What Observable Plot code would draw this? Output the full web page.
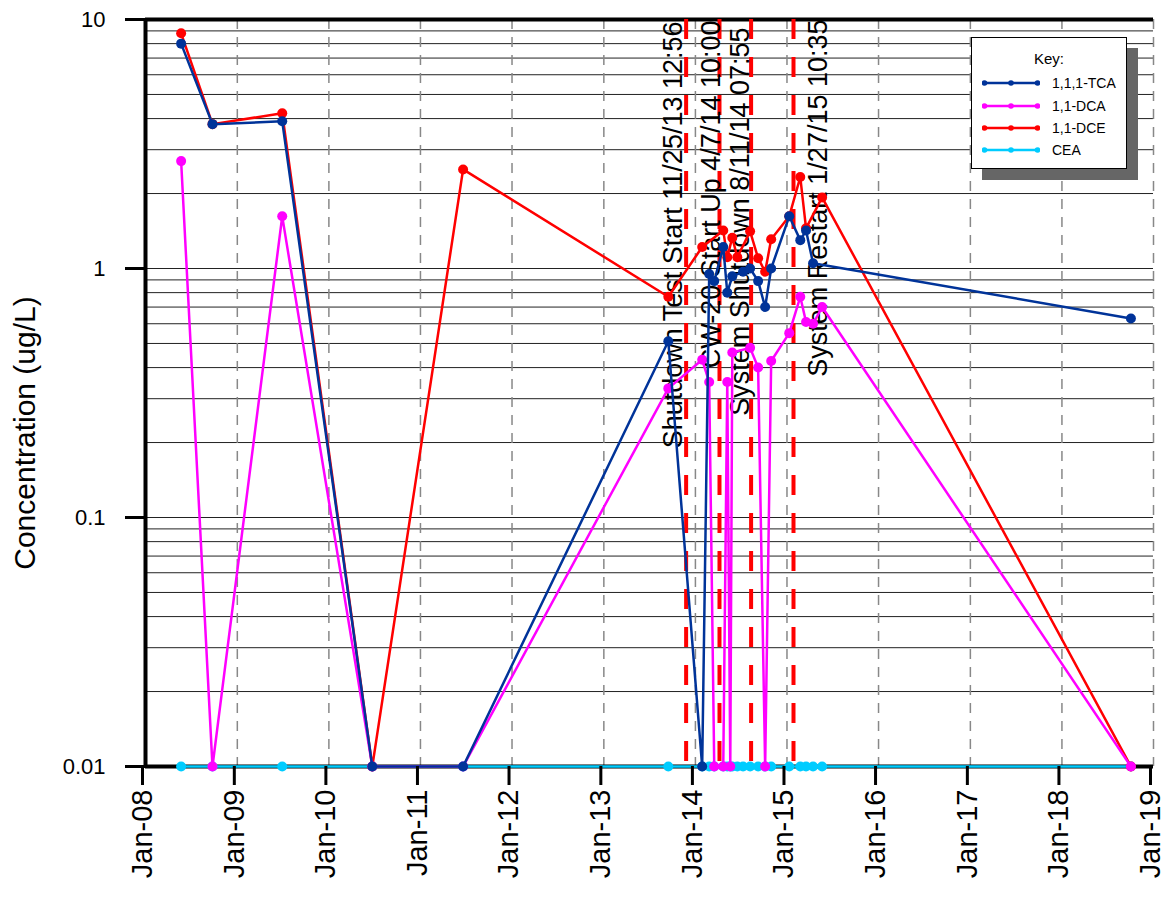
<!DOCTYPE html>
<html>
<head>
<meta charset="utf-8">
<script src="https://cdn.jsdelivr.net/npm/d3@7"></script>
<script src="https://cdn.jsdelivr.net/npm/@observablehq/plot@0.6"></script>
<style>
  body { margin: 0; background: #fff; }
  #wrap { position: relative; width: 1167px; height: 905px; }
  #key {
    position: absolute; left: 971px; top: 37px; width: 154px; height: 130px;
    border: 1px solid #000; background: #fff; box-shadow: 11px 11px 0 #666;
    font-family: "Liberation Sans", Arial, sans-serif; font-size: 14px; color: #000;
  }
  #key .title { position: absolute; top: 12px; left: 0; width: 100%; text-align: center; font-size: 15px; }
  #key .row { position: absolute; left: 10px; height: 14px; display: flex; align-items: center; }
  #key .row span { margin-left: 12px; }
</style>
</head>
<body>
<div id="wrap"><div id="key"><div class="title">Key:</div></div></div>
<script>
// Sampling dates (all analytes reported on the same events)
const sampleDates = [
  "2008-05-22", "2008-09-24", "2009-06-29", "2010-06-23", "2011-06-20",
  "2013-09-15", "2014-01-28", "2014-02-25", "2014-03-17", "2014-04-22",
  "2014-05-08", "2014-05-20", "2014-05-28", "2014-06-17", "2014-07-10",
  "2014-08-07", "2014-09-08", "2014-10-06", "2014-10-30", "2015-01-10",
  "2015-02-23", "2015-03-18", "2015-04-15", "2015-05-21", "2018-10-03"
];

// Concentrations in ug/L (null = not reported); non-detects plotted at 0.01
const tca = [8.0, 3.8, 3.9, 0.01, 0.01, 0.51, 0.01, 0.95, 0.89, 1.22, 0.80, null, 0.93, null, 0.97, 1.0, 0.89, 0.70, 1.0, 1.62, 1.30, 1.42, 1.05, null, 0.63];
const dca = [2.7, 0.01, 1.62, 0.01, 0.01, 0.33, 0.43, 0.35, 0.01, 0.01, 0.35, 0.01, 0.46, null, null, 0.48, 0.40, 0.01, 0.425, 0.55, 0.77, 0.61, 0.60, 0.70, 0.01];
const dce = [8.8, 3.8, 4.2, 0.01, 2.5, 0.77, 1.22, null, null, 1.42, 1.11, null, 1.33, 1.11, null, 1.41, 1.10, 0.97, 1.31, 1.62, 2.33, 1.45, null, 1.93, 0.01];
const cea = [0.01, 0.01, 0.01, 0.01, 0.01, 0.01, 0.01, 0.01, 0.01, 0.01, 0.01, 0.01, 0.01, 0.01, 0.01, 0.01, 0.01, 0.01, 0.01, 0.01, 0.01, 0.01, 0.01, 0.01, 0.01];

const seriesNames = ["1,1,1-TCA", "1,1-DCA", "1,1-DCE", "CEA"];
const seriesValues = [tca, dca, dce, cea];
const seriesColors = ["#003399", "#ff00ff", "#ff0000", "#00ccff"];

// System events
const eventDates = ["2013-11-25", "2014-04-07", "2014-08-11", "2015-01-27"];
const eventLabels = [
  "Shutdown Test Start 11/25/13 12:56",
  "CW-20 Start Up 4/7/14 10:00",
  "System Shutdown 8/11/14 07:55",
  "System Restart 1/27/15 10:35"
];

// Axis ticks
const yearTicks = ["2008", "2009", "2010", "2011", "2012", "2013", "2014", "2015", "2016", "2017", "2018", "2019"];
const yTicks = [0.01, 0.1, 1, 10];
const yTickLabels = ["0.01", "0.1", "1", "10"];
const yLabel = "Concentration (ug/L)";

const parse = s => new Date(s + (s.length === 4 ? "-01-01" : "") + "T00:00:00Z");
const years = yearTicks.map(parse);
const events = eventDates.map((d, i) => ({date: parse(d), label: eventLabels[i]}));

const rows = [];
seriesNames.forEach((name, k) => {
  seriesValues[k].forEach((v, i) => {
    if (v != null) rows.push({name, date: parse(sampleDates[i]), value: v});
  });
});

// minor grid at 1..9 of each decade
const yGrid = [0.01, 0.1, 1].flatMap(d => [1, 2, 3, 4, 5, 6, 7, 8, 9].map(m => +(d * m).toPrecision(3))).filter(v => v > 0.01);

const font = "'Liberation Sans', Arial, sans-serif";
const labelNudge = [[-23, 2], [-19, 1], [-21, 8], [14, 0]];

// draw series back-to-front: CEA, DCE, DCA, TCA
const drawOrder = [3, 2, 1, 0];
const seriesMarks = drawOrder.flatMap(k => {
  const data = rows.filter(r => r.name === seriesNames[k]);
  return [
    Plot.line(data, {x: "date", y: "value", stroke: seriesColors[k], strokeWidth: 2.5}),
    Plot.dot(data, {x: "date", y: "value", fill: seriesColors[k], r: 5})
  ];
});

const chart = Plot.plot({
  width: 1167,
  height: 905,
  marginLeft: 145,
  marginRight: 14,
  marginTop: 19,
  marginBottom: 139,
  style: {fontFamily: font, background: "#fff", color: "#000"},
  x: {type: "utc", domain: [years[0], years[years.length - 1]]},
  y: {type: "log", domain: [0.01, 10]},
  marks: [
    Plot.ruleY(yGrid, {stroke: "#222", strokeWidth: 1}),
    Plot.ruleX(years.slice(1), {stroke: "#888", strokeWidth: 1.5, strokeDasharray: "10,8"}),
    Plot.ruleY([10], {stroke: "#000", strokeWidth: 4}),
    Plot.ruleY([0.01], {stroke: "#000", strokeWidth: 4}),
    Plot.ruleX([years[0]], {stroke: "#000", strokeWidth: 4}),
    Plot.ruleX(events, {x: "date", stroke: "#ff0000", strokeWidth: 4, strokeDasharray: "20,18"}),
    ...events.map((e, i) => Plot.text([e], {
      x: "date", text: "label", frameAnchor: "top", textAnchor: "end", rotate: -90,
      dx: labelNudge[i][0], dy: labelNudge[i][1], fontSize: 27, fill: "#000"
    })),
    ...seriesMarks,
    Plot.axisX({
      ticks: years, tickFormat: d3.utcFormat("%b-%y"), tickRotate: -90,
      tickSize: 19, tickPadding: 4, strokeWidth: 3, fontSize: 29, dx: -3, label: null
    }),
    Plot.axisY({
      ticks: yTicks, tickFormat: (d, i) => yTickLabels[yTicks.indexOf(d)],
      tickSize: 20, tickPadding: 20, strokeWidth: 3, fontSize: 22, label: null
    }),
    Plot.text([yLabel], {frameAnchor: "left", textAnchor: "middle", rotate: -90, dx: -120, dy: 40, fontSize: 30, fill: "#000"})
  ]
});

const wrap = document.getElementById("wrap");
wrap.insertBefore(chart, wrap.firstChild);

// Key
const key = document.getElementById("key");
const rowTops = [38, 61, 83, 105];
seriesNames.forEach((name, k) => {
  const row = document.createElement("div");
  row.className = "row";
  row.style.top = rowTops[k] + "px";
  const c = seriesColors[k];
  row.innerHTML = `<svg width="58" height="14"><line x1="2" y1="7" x2="56" y2="7" stroke="${c}" stroke-width="2.5"/>` +
    `<circle cx="2.5" cy="7" r="2.8" fill="${c}"/><circle cx="29" cy="7" r="2.8" fill="${c}"/><circle cx="55.5" cy="7" r="2.8" fill="${c}"/></svg>` +
    `<span>${name}</span>`;
  key.appendChild(row);
});
</script>
</body>
</html>
